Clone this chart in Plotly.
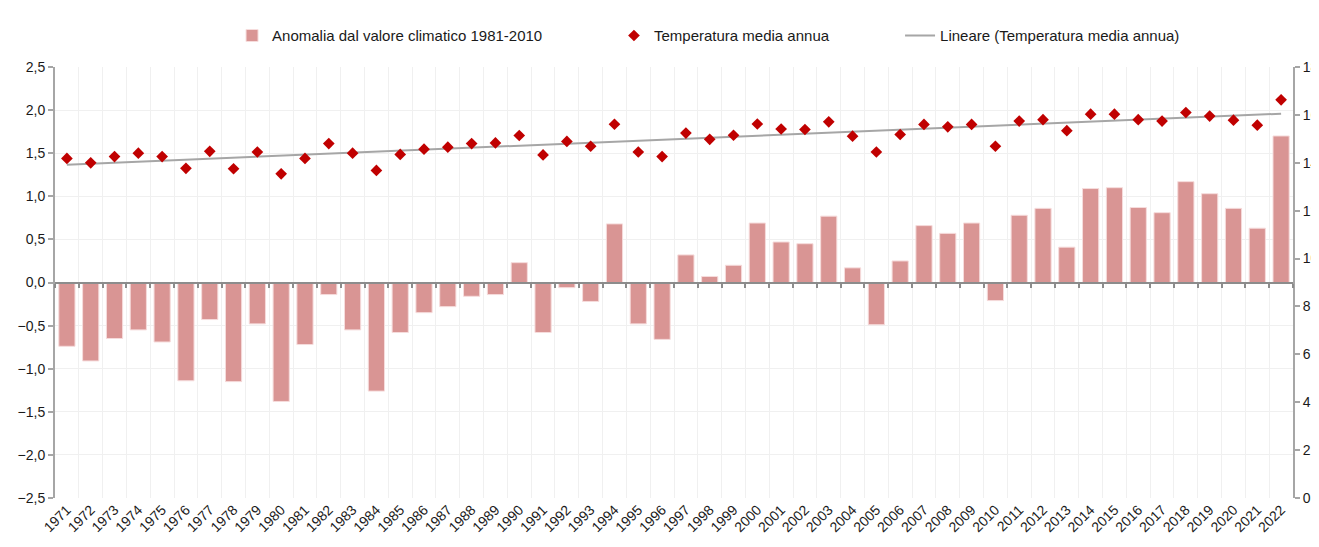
import plotly.graph_objects as go

years = [str(y) for y in range(1971, 2023)]

# anomalia rispetto al valore climatico 1981-2010 (asse sinistro)
anomalia = [
    -0.74, -0.91, -0.65, -0.55, -0.69, -1.14, -0.43, -1.15, -0.48, -1.38,
    -0.72, -0.14, -0.55, -1.26, -0.58, -0.35, -0.28, -0.16, -0.14, 0.23,
    -0.58, -0.06, -0.22, 0.68, -0.48, -0.66, 0.32, 0.07, 0.20, 0.69,
    0.47, 0.45, 0.77, 0.17, -0.49, 0.25, 0.66, 0.57, 0.69, -0.21,
    0.78, 0.86, 0.41, 1.09, 1.10, 0.87, 0.81, 1.17, 1.03, 0.86,
    0.63, 1.70,
]

# temperatura media annua (asse destro)
temperatura = [
    14.18, 14.00, 14.26, 14.40, 14.26, 13.77, 14.48, 13.75, 14.45, 13.54,
    14.18, 14.80, 14.40, 13.68, 14.35, 14.57, 14.65, 14.80, 14.83, 15.14,
    14.33, 14.89, 14.69, 15.61, 14.45, 14.26, 15.24, 14.98, 15.15, 15.62,
    15.41, 15.39, 15.71, 15.11, 14.45, 15.18, 15.60, 15.50, 15.60, 14.69,
    15.74, 15.80, 15.34, 16.03, 16.03, 15.80, 15.74, 16.10, 15.95, 15.78,
    15.57, 16.63,
]

# linea di tendenza (estremi)
trend_years = ["1971", "2022"]
trend_values = [13.92, 16.05]

fig = go.Figure()

fig.add_trace(go.Bar(
    x=years,
    y=anomalia,
    name="Anomalia dal valore climatico 1981-2010",
    marker=dict(color="#d99594", line=dict(color="#f6dcdc", width=1)),
    width=0.68,
    xaxis="x",
    yaxis="y",
    legend="legend",
))

fig.add_trace(go.Scatter(
    x=trend_years,
    y=trend_values,
    mode="lines",
    name="Lineare (Temperatura media annua)",
    line=dict(color="#a6a6a6", width=2),
    xaxis="x2",
    yaxis="y2",
    legend="legend3",
))

fig.add_trace(go.Scatter(
    x=years,
    y=temperatura,
    mode="markers",
    name="Temperatura media annua",
    marker=dict(symbol="diamond", size=9, color="#c00000"),
    xaxis="x2",
    yaxis="y2",
    legend="legend2",
))

# one legend per entry so the three items sit where the original has them
legend_style = dict(
    orientation="h",
    y=1.07, yanchor="middle",
    xanchor="left",
    font=dict(size=15),
    bgcolor="rgba(0,0,0,0)",
)

fig.update_layout(
    width=1319,
    height=547,
    template="none",
    separators=", ",
    plot_bgcolor="white",
    paper_bgcolor="white",
    font=dict(family="Liberation Sans, Arial", size=14, color="#1a1a1a"),
    margin=dict(l=47, r=34, t=58, b=57),
    bargap=0.32,
    showlegend=True,
    legend=dict(legend_style, x=0.143),
    legend2=dict(legend_style, x=0.4515),
    legend3=dict(legend_style, x=0.6826),
    xaxis=dict(
        type="category",
        categoryorder="array",
        categoryarray=years,
        range=[-0.5, 51.5],
        tickson="boundaries",
        showgrid=True,
        gridcolor="#f0f0f0",
        gridwidth=1,
        ticks="",
        showline=False,
        zeroline=False,
        tickangle=-45,
        tickfont=dict(size=14),
        automargin=False,
    ),
    xaxis2=dict(
        type="category",
        categoryorder="array",
        categoryarray=years,
        range=[-0.5, 51.5],
        overlaying="x",
        anchor="free",
        position=0.5,
        side="bottom",
        tickson="boundaries",
        ticks="outside",
        ticklen=4,
        tickwidth=2,
        tickcolor="#8c8c8c",
        showticklabels=False,
        showgrid=False,
        showline=True,
        linecolor="#8c8c8c",
        linewidth=2,
        zeroline=False,
        automargin=False,
    ),
    yaxis=dict(
        range=[-2.5, 2.5],
        dtick=0.5,
        tickformat=".1f",
        showgrid=True,
        gridcolor="#f0f0f0",
        gridwidth=1,
        zeroline=False,
        showline=True,
        linecolor="#a6a6a6",
        linewidth=2,
        ticks="outside",
        ticklen=5,
        tickwidth=2,
        tickcolor="#a6a6a6",
        automargin=False,
    ),
    yaxis2=dict(
        range=[0, 18],
        dtick=2,
        tickformat="d",
        overlaying="y",
        side="right",
        anchor="x",
        showgrid=False,
        zeroline=False,
        showline=True,
        linecolor="#a6a6a6",
        linewidth=2,
        ticks="outside",
        ticklen=5,
        tickwidth=2,
        tickcolor="#a6a6a6",
        automargin=False,
    ),
)

fig.write_html("out.html")
